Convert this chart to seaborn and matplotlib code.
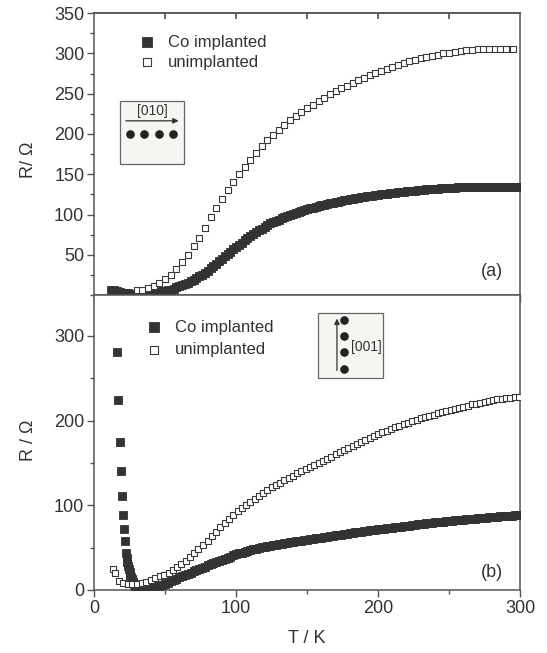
import numpy as np
import pandas as pd
import matplotlib
matplotlib.use("Agg")
import matplotlib.pyplot as plt
from matplotlib.patches import Rectangle
from matplotlib.ticker import MultipleLocator
import seaborn as sns

# ---------------- data ----------------
# panel (a): Co implanted (dense sweep, 2 K grid)
Ta_co = list(range(12, 301, 2))
Ra_co = [7, 6, 5, 4, 3.2, 2.6, 2.2, 1.9, 1.7, 1.6, 1.7, 1.9, 2.2, 2.6, 3.0, 3.4, 3.9, 4.4, 5.0,
         5.2, 6, 7, 8.2, 9.5, 11, 12.5, 14, 15.7, 17.5, 19.3, 21.2, 23.2, 25.5, 28, 30.5, 33.3,
         36, 39, 42, 45, 48, 51, 54, 57, 59.5, 62.5, 65.3, 68, 70.7, 73.3, 75.8, 78.2, 80.5,
         82.7, 85, 87, 89, 90.5, 92, 93.7, 95.2, 96.7, 98, 99.4, 100.7, 102, 103.2, 104.4,
         105.5, 106.6, 107.6, 108.6, 109.5, 110.4, 111.3, 112.2, 113, 113.8, 114.6, 115.4,
         116.1, 116.8, 117.5, 118.2, 118.9, 119.5, 120.1, 120.7, 121.3, 121.9, 122.5, 123.0,
         123.5, 124, 124.5, 125, 125.5, 126, 126.4, 126.8, 127.2, 127.6, 128, 128.4, 128.8,
         129.2, 129.5, 129.8, 130.2, 130.5, 130.8, 131.1, 131.4, 131.7, 132, 132.2, 132.4,
         132.6, 132.8, 133, 133.2, 133.4, 133.6, 133.8, 134, 134.1, 134.2, 134.3, 134.4, 134.5,
         134.5, 134.6, 134.6, 134.7, 134.7, 134.7, 134.8, 134.8, 134.8, 134.8, 134.8, 134.8,
         134.8, 134.8, 134.8]

# panel (a): unimplanted
Ta_un = [30, 34, 38, 42, 46, 50, 54, 58, 62, 66, 70, 74, 78, 82, 86, 90, 94, 98, 102, 106,
         110, 114, 118, 122, 126, 130, 134, 138, 142, 146, 150, 154, 158, 162, 166, 170, 174,
         178, 182, 186, 190, 194, 198, 202, 206, 210, 214, 218, 222, 226, 230, 234, 238, 242,
         246, 250, 254, 258, 262, 266, 270, 274, 278, 282, 286, 290, 295]
Ra_un = [5.8, 6.3, 9.2, 11.5, 15.3, 20.3, 25.5, 32.5, 41.5, 50, 60.5, 71.5, 83.5, 96.5, 108,
         119, 130, 140, 150, 159, 168, 176.5, 184.5, 192, 199, 205.5, 211.5, 217, 222.5, 227.5,
         232, 236.5, 241, 245, 249, 253, 256.5, 260, 263.5, 267, 270, 273, 276, 278.5, 281,
         283.5, 286, 288, 290, 292, 294, 295.5, 297, 298.5, 300, 301, 302, 303, 304, 304.5,
         305, 305.5, 306, 306, 306, 306, 306]

# panel (b): Co implanted
Tb_co = ([16.0, 16.9, 17.9, 18.8, 19.5, 20.2, 20.9, 21.7, 22.5,
          23, 23.5, 24, 24.5, 25, 25.5, 26, 26.5, 27, 27.5, 28, 28.5, 29, 29.5, 30, 31, 32]
         + list(range(34, 301, 2)))
Rb_co = [281, 224, 175, 141, 111.5, 89, 72.5, 58, 44,
         38, 33, 28.5, 24.5, 21, 18, 15.5, 13, 11, 9.2, 7.6, 6.2, 5, 4, 3.2, 2.3, 1.8,
         1.5, 1.5, 1.8, 2.4, 3.1, 4, 5, 6.2, 7.5, 8.8, 10.2, 11.7, 13.3, 15, 16.4, 17.8, 19.2,
         20.6, 22, 23.4, 24.8, 26.2, 27.6, 29, 30.4, 31.7, 33, 34.3, 35.6, 36.9, 38.2, 39.5,
         40.8, 42, 43.1, 44.1, 45.1, 46, 46.9, 47.8, 48.6, 49.4, 50.2, 51, 51.7, 52.4, 53,
         53.6, 54.2, 54.8, 55.4, 55.9, 56.4, 56.9, 57.4, 57.9, 58.4, 58.9, 59.4, 59.9, 60.4,
         60.9, 61.4, 61.9, 62.4, 62.9, 63.4, 63.9, 64.4, 64.9, 65.4, 65.9, 66.4, 66.9, 67.4,
         67.9, 68.4, 68.9, 69.4, 69.8, 70.3, 70.8, 71.2, 71.7, 72.1, 72.5, 72.9, 73.3, 73.7,
         74.1, 74.5, 74.9, 75.3, 75.7, 76.1, 76.5, 76.9, 77.3, 77.7, 78.1, 78.5, 78.9, 79.3,
         79.7, 80.1, 80.5, 80.8, 81.1, 81.5, 81.8, 82.1, 82.4, 82.7, 83, 83.3, 83.6, 83.9,
         84.2, 84.5, 84.8, 85.1, 85.4, 85.7, 86, 86.3, 86.6, 86.8, 87, 87.3, 87.6, 87.9, 88.1,
         88.3, 88.5]

# panel (b): unimplanted
Tb_un = [13, 15, 17.5, 20.5, 24, 27, 30.5, 33.5, 36.5, 40, 43, 46.5, 49.5, 52.5, 55.5, 58.5,
         61.5, 64.5, 67.5, 70.5, 73.5, 77, 80, 83, 86, 89, 92, 95, 98, 101, 104, 107, 110,
         113, 116, 119, 122, 125, 128, 131, 134, 137, 140, 143, 146, 149, 152, 155, 158, 161,
         164, 167, 170, 173, 176, 179, 182, 185, 188, 191, 194, 197, 200, 203, 206, 209, 212,
         215, 218, 221, 224, 227, 230, 233, 236, 239, 242, 245, 248, 251, 254, 257, 260, 263,
         266, 269, 272, 275, 278, 281, 284, 287, 290, 293, 296, 299]
Rb_un = [24.5, 19.5, 10.5, 8, 7, 7, 7, 8.5, 10, 12, 14, 16, 18, 20.5, 23.5, 27, 30.5, 34.5,
         39, 43.5, 48, 53, 58, 63.5, 69, 74, 79, 84, 88.5, 93, 97, 100.5, 104, 107.5, 111,
         114.5, 118, 121, 124, 126.5, 129.5, 132, 135, 137.5, 140, 142.5, 145, 147.5, 150,
         152.5, 155, 157.5, 160, 162.5, 165, 167.5, 170, 172.5, 175, 177, 179.5, 181.5, 184,
         186, 188, 190, 192, 194, 196, 197.5, 199.5, 201, 202.5, 204, 205.5, 207, 208.5, 210,
         211.5, 212.5, 214, 215, 216.5, 217.5, 219, 220, 221, 222, 223, 224, 225, 226, 226.5,
         227, 227.5, 228]

labels = ["Co implanted", "unimplanted"]
xticks = [0, 100, 200, 300]
yticks_a = [50, 100, 150, 200, 250, 300, 350]
yticks_b = [0, 100, 200, 300]

# ---------------- style ----------------
sns.set_theme(style="ticks")
plt.rcParams["font.family"] = ["Liberation Sans", "DejaVu Sans"]
TXT = "#333333"
DARK = "#333333"
SPINE = "#555555"
plt.rcParams.update({
    "text.color": TXT, "axes.labelcolor": TXT,
    "xtick.color": SPINE, "ytick.color": SPINE,
    "xtick.labelcolor": TXT, "ytick.labelcolor": TXT,
    "axes.edgecolor": SPINE, "axes.linewidth": 1.1,
})

fig = plt.figure(figsize=(5.47, 6.53), dpi=100)
ax1 = fig.add_axes([0.172, 0.548, 0.779, 0.432])
ax2 = fig.add_axes([0.172, 0.0965, 0.779, 0.4515])

df_a_co = pd.DataFrame({"T": Ta_co, "R": Ra_co})
df_a_un = pd.DataFrame({"T": Ta_un, "R": Ra_un})
df_b_co = pd.DataFrame({"T": Tb_co, "R": Rb_co})
df_b_un = pd.DataFrame({"T": Tb_un, "R": Rb_un})

for ax, dco, dun in [(ax1, df_a_co, df_a_un), (ax2, df_b_co, df_b_un)]:
    sns.scatterplot(data=dco, x="T", y="R", ax=ax, marker="s", color=DARK,
                    edgecolor=DARK, s=30, linewidth=0.6, label=labels[0], zorder=3)
    sns.scatterplot(data=dun, x="T", y="R", ax=ax, marker="s", color="white",
                    edgecolor="#3a3a3a", s=15, linewidth=0.8, label=labels[1], zorder=4)

for ax in (ax1, ax2):
    ax.set_xlim(0, 300)
    ax.xaxis.set_major_locator(MultipleLocator(100))
    ax.xaxis.set_minor_locator(MultipleLocator(50))
    ax.tick_params(axis="both", which="major", length=5, width=1.0, labelsize=13, pad=2)
    ax.tick_params(axis="both", which="minor", length=3, width=1.0)
    ax.set_xlabel("")
    ax.set_ylabel("")

# panel (a)
ax1.set_ylim(0, 350)
ax1.set_yticks(yticks_a)
ax1.yaxis.set_minor_locator(MultipleLocator(25))
ax1.tick_params(axis="x", which="both", labelbottom=False, top=False, direction="out")
ax1.set_xticks(xticks)
ax1.xaxis.set_minor_locator(MultipleLocator(50))
ax1.set_ylabel("R/ \u03a9", fontsize=13)
ax1.yaxis.set_label_coords(-0.135, 0.48)

# top spine ticks inward
secx = ax1.secondary_xaxis("top")
secx.set_xticks([50, 100, 150, 200, 250])
secx.tick_params(axis="x", direction="in", length=4, labeltop=False, color=SPINE)

# panel (b)
ax2.set_ylim(0, 348)
ax2.set_yticks(yticks_b)
ax2.yaxis.set_minor_locator(MultipleLocator(50))
ax2.set_xticks(xticks)
ax2.set_ylabel("R / \u03a9", fontsize=13)
ax2.yaxis.set_label_coords(-0.135, 0.508)
ax2.set_xlabel("T / K", fontsize=13)
ax2.xaxis.set_label_coords(0.5, -0.135)

# legends
for ax, anchor, lsp in [(ax1, (0.09, 0.947), 0.3), (ax2, (0.105, 0.94), 0.45)]:
    leg = ax.legend(loc="upper left", bbox_to_anchor=anchor, frameon=False, fontsize=12,
                    markerscale=1.0, handletextpad=0.75, labelspacing=lsp,
                    borderaxespad=0, handlelength=1.0)
    hs = leg.legend_handles
    hs[0].set_sizes([42])
    hs[1].set_sizes([38])
    for t in leg.get_texts():
        t.set_color(TXT)

# panel labels
ax1.text(0.934, 0.084, "(a)", transform=ax1.transAxes, ha="center", va="center",
         fontsize=13, color=TXT)
ax2.text(0.934, 0.058, "(b)", transform=ax2.transAxes, ha="center", va="center",
         fontsize=13, color=TXT)

# inset (a): [010]
ax1.add_patch(Rectangle((0.061, 0.466), 0.150, 0.223, transform=ax1.transAxes,
                        facecolor="#f7f5f2", edgecolor="#666666", lw=0.9, zorder=5))
ax1.text(0.136, 0.652, "[010]", transform=ax1.transAxes, ha="center", va="center",
         fontsize=10, color=TXT, zorder=6)
ax1.annotate("", xy=(0.205, 0.618), xytext=(0.068, 0.618), xycoords="axes fraction",
             arrowprops=dict(arrowstyle="-|>", color="#333333", lw=0.9,
                             mutation_scale=8), zorder=6)
for fx in [0.0845, 0.117, 0.153, 0.185]:
    ax1.plot(fx, 0.572, "o", ms=5.2, color="#222222", transform=ax1.transAxes, zorder=6)

# inset (b): [001]
ax2.add_patch(Rectangle((0.526, 0.719), 0.152, 0.221, transform=ax2.transAxes,
                        facecolor="#f7f5f2", edgecolor="#666666", lw=0.9, zorder=5))
ax2.annotate("", xy=(0.570, 0.93), xytext=(0.570, 0.735), xycoords="axes fraction",
             arrowprops=dict(arrowstyle="-|>", color="#333333", lw=0.9,
                             mutation_scale=8), zorder=6)
for fy in [0.915, 0.862, 0.807, 0.748]:
    ax2.plot(0.587, fy, "o", ms=5.2, color="#222222", transform=ax2.transAxes, zorder=6)
ax2.text(0.638, 0.825, "[001]", transform=ax2.transAxes, ha="center", va="center",
         fontsize=10, color=TXT, zorder=6)

fig.savefig("out.png", dpi=100)
